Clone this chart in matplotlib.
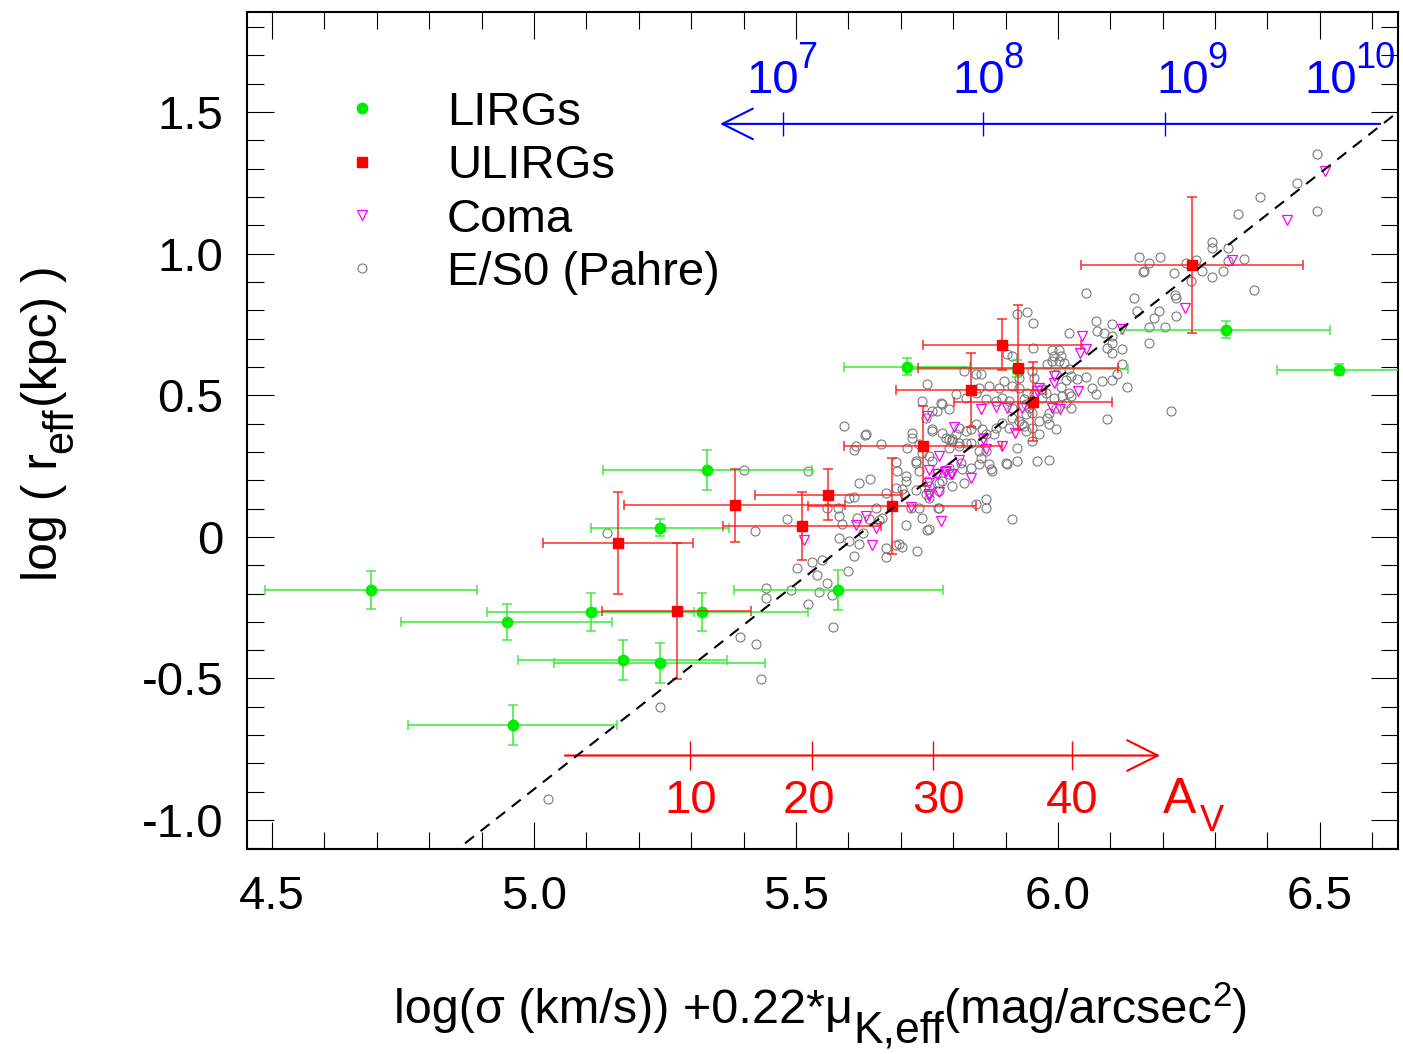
import matplotlib
matplotlib.use("Agg")
import numpy as np
import matplotlib.pyplot as plt
from matplotlib.lines import Line2D
from matplotlib.ticker import MultipleLocator, FuncFormatter

plt.rcParams['font.family'] = ['Liberation Sans', 'DejaVu Sans']

# ---- LIRGs (green), with x / y errors
lirg_x = [4.689, 4.948, 4.959, 5.108, 5.169, 5.240, 5.240, 5.320, 5.331, 5.581, 5.712, 5.922, 6.320, 6.536]
lirg_y = [-0.187, -0.300, -0.664, -0.265, -0.434, -0.445, 0.032, -0.265, 0.237, -0.187, 0.600, 0.593, 0.731, 0.590]
lirg_xerr = [0.203, 0.201, 0.200, 0.198, 0.200, 0.201, 0.132, 0.202, 0.200, 0.200, 0.120, 0.212, 0.200, 0.118]
lirg_yerr = [0.067, 0.064, 0.070, 0.067, 0.070, 0.070, 0.030, 0.067, 0.070, 0.070, 0.030, 0.030, 0.030, 0.020]

# ---- ULIRGs (red)
ulirg_x = [5.161, 5.272, 5.383, 5.512, 5.562, 5.683, 5.743, 5.834, 5.893, 5.924, 5.953, 6.256]
ulirg_y = [-0.021, -0.261, 0.111, 0.039, 0.148, 0.109, 0.321, 0.519, 0.678, 0.597, 0.477, 0.960]
ulirg_xerr = [0.143, 0.143, 0.211, 0.151, 0.141, 0.161, 0.151, 0.143, 0.151, 0.191, 0.151, 0.212]
ulirg_yerr = [0.18, 0.24, 0.13, 0.12, 0.09, 0.17, 0.14, 0.13, 0.09, 0.22, 0.14, 0.24]

# ---- Coma
coma_x = [6.509, 6.437, 6.332, 6.242, 6.122, 6.046, 6.054, 6.042, 6.038, 5.993,
          5.993, 5.964, 5.960, 5.903, 5.989, 6.004, 5.932, 5.882, 5.853, 5.918,
          5.893, 5.857, 5.802, 5.750, 5.773, 5.811, 5.796, 5.785, 5.754, 5.834,
          5.754, 5.754, 5.773, 5.720, 5.777, 5.863, 5.634, 5.615, 5.653, 5.646,
          5.516, 5.770, 5.787, 5.798, 5.754]
coma_y = [1.292, 1.119, 0.978, 0.809, 0.734, 0.710, 0.664, 0.650, 0.516, 0.568,
          0.544, 0.526, 0.516, 0.456, 0.456, 0.452, 0.456, 0.459, 0.452, 0.367,
          0.321, 0.346, 0.388, 0.427, 0.286, 0.272, 0.222, 0.230, 0.237, 0.208,
          0.191, 0.152, 0.159, 0.106, 0.056, 0.311, 0.074, 0.042, 0.032, -0.028,
          -0.011, 0.222, 0.233, 0.222, 0.145]

# ---- E/S0 (Pahre)
es0_x = [5.026, 5.240, 5.139, 5.400, 5.522, 5.394, 5.423, 5.434, 5.442, 5.442,
         5.482, 5.421, 5.491, 5.501, 5.522, 5.531, 5.541, 5.543, 5.550, 5.560,
         5.569, 5.571, 5.600, 5.583, 5.602, 5.611, 5.621, 5.581, 5.560, 5.583,
         5.602, 5.611, 5.592, 5.632, 5.663, 5.611, 5.621, 5.642, 5.672, 5.691,
         5.691, 5.693, 5.710, 5.653, 5.659, 5.617, 5.672, 5.672, 5.691, 5.703,
         5.731, 5.710, 5.741, 5.750, 5.771, 5.735, 5.722, 5.722, 5.760, 5.777,
         5.792, 5.760, 5.798, 5.811, 5.798, 5.729, 5.729, 5.754, 5.773, 5.754,
         5.587, 5.627, 5.640, 5.665, 5.697, 5.615, 5.634,
         5.754, 5.720, 5.773, 5.844, 5.863, 5.863, 5.821, 5.773, 5.749, 5.707,
         5.703, 5.710, 5.750, 5.779, 5.817, 5.874, 5.850, 5.834, 5.815, 5.792,
         5.792, 5.770, 5.760, 5.735, 5.729, 5.754, 5.741, 5.712, 5.735, 5.792,
         5.779, 5.760, 5.749, 5.779, 5.770, 5.741, 5.750, 5.821, 5.844, 5.853,
         5.806, 5.825, 5.844, 5.863, 5.850, 5.869, 5.882, 5.932, 5.922, 5.922,
         5.901, 5.872, 5.869, 5.853, 5.863, 5.850, 5.855, 5.834, 5.825, 5.811,
         5.792, 5.787, 5.798, 5.806, 5.811, 5.825, 5.834, 5.844, 5.855, 5.863,
         5.878, 5.882, 5.893, 5.907, 5.912, 5.926, 5.935, 5.951, 5.983, 5.964,
         5.951, 5.939, 5.939, 5.912, 5.907, 5.893, 5.888, 5.897, 5.926, 5.951,
         5.954, 5.926, 5.912, 5.926, 5.941, 5.954, 5.935, 5.939, 5.951, 5.945,
         5.951, 5.964, 5.979, 5.983, 5.996, 6.015, 6.025, 5.970, 5.968, 5.977,
         5.993, 6.008, 6.025, 6.021, 6.006, 6.015, 5.996, 6.036, 6.025, 6.021,
         6.012, 5.979, 5.989, 6.002, 5.993, 6.006, 5.989, 6.002, 5.912, 5.903,
         5.953, 5.922, 5.941, 5.953, 6.021, 6.073, 6.075, 6.088, 6.103, 6.103,
         6.103, 6.094, 6.122, 6.103, 6.174, 6.122, 6.113, 6.132, 6.103, 6.084,
         6.065, 6.073, 6.054, 6.216, 6.094, 5.912, 5.903, 5.960, 5.983, 5.996,
         6.054, 6.145, 6.151, 6.193, 6.183, 6.174, 6.225, 6.204, 6.164, 6.174,
         6.221,
         6.456, 6.385, 6.343, 6.494, 6.494, 6.374, 6.294, 6.294, 6.324, 6.355,
         6.324, 6.315, 6.294, 6.275, 6.263, 6.244, 6.254, 6.155, 6.195, 6.162,
         6.223, 6.225]
es0_y = [-0.925, -0.600, 0.014, 0.237, 0.233, -0.353, -0.378, -0.501, -0.180, -0.215,
         0.064, 0.021, -0.187, -0.109, -0.237, -0.088, -0.134, -0.194, -0.081, -0.162,
         -0.205, -0.318, -0.120, -0.004, -0.014, -0.067, -0.025, 0.102, 0.102, 0.074,
         0.138, 0.141, 0.392, 0.360, 0.328, 0.307, 0.191, 0.205, 0.155, 0.173,
         0.265, 0.233, 0.215, 0.102, 0.060, 0.067, -0.039, -0.071, -0.028, -0.035,
         -0.049, 0.042, 0.067, 0.025, 0.102, 0.102, 0.367, 0.350, 0.374, 0.473,
         0.452, 0.445, 0.346, 0.321, 0.180, 0.261, 0.166, 0.138, 0.191, 0.180,
         0.046, 0.014, 0.064, 0.067, -0.025, 0.321, 0.364,
         0.028, 0.102, 0.102, 0.117, 0.102, 0.134, 0.191, 0.162, 0.152, 0.152,
         0.169, 0.198, 0.198, 0.198, 0.240, 0.233, 0.258, 0.244, 0.261, 0.244,
         0.222, 0.226, 0.268, 0.233, 0.268, 0.286, 0.297, 0.314, 0.328, 0.346,
         0.367, 0.381, 0.420, 0.470, 0.445, 0.480, 0.540, 0.586, 0.576, 0.576,
         0.505, 0.491, 0.508, 0.487, 0.526, 0.533, 0.480, 0.399, 0.268, 0.314,
         0.261, 0.240, 0.258, 0.279, 0.304, 0.304, 0.339, 0.332, 0.332, 0.332,
         0.314, 0.350, 0.339, 0.364, 0.385, 0.374, 0.381, 0.399, 0.381, 0.364,
         0.364, 0.385, 0.403, 0.385, 0.420, 0.410, 0.392, 0.385, 0.399, 0.364,
         0.339, 0.374, 0.434, 0.456, 0.480, 0.491, 0.526, 0.551, 0.586, 0.586,
         0.561, 0.561, 0.533, 0.526, 0.508, 0.505, 0.487, 0.470, 0.438, 0.456,
         0.470, 0.410, 0.420, 0.438, 0.456, 0.473, 0.456, 0.491, 0.523, 0.508,
         0.491, 0.498, 0.498, 0.508, 0.530, 0.554, 0.576, 0.558, 0.568, 0.593,
         0.614, 0.611, 0.621, 0.621, 0.639, 0.639, 0.660, 0.660, 0.639, 0.646,
         0.667, 0.787, 0.794, 0.756, 0.720, 0.763, 0.727, 0.720, 0.752, 0.710,
         0.685, 0.667, 0.664, 0.650, 0.685, 0.611, 0.576, 0.530, 0.554, 0.551,
         0.526, 0.505, 0.565, 0.445, 0.417, 0.064, 0.258, 0.268, 0.272, 0.381,
         0.862, 0.844, 0.798, 0.798, 0.773, 0.742, 0.780, 0.742, 0.939, 0.968,
         0.932,
         1.250, 1.201, 1.141, 1.151, 1.352, 0.872, 1.042, 1.020, 1.020, 0.982,
         0.975, 0.939, 0.918, 0.939, 0.978, 0.968, 0.904, 0.989, 0.989, 0.936,
         0.855, 0.844]

# ---- dashed relation  y = slope * x + intercept
fit_slope = 1.45
fit_intercept = -8.141

# ---- mass scale (blue, top) and extinction scale (red, bottom)
mass_arrow_x = [6.615, 5.355]
mass_arrow_y = 1.458
mass_tick_x = [5.476, 5.857, 6.204]
mass_label_x = [5.506, 5.899, 6.288, 6.570]   # where "10" ends and the exponent starts
mass_exponents = ['7', '8', '9', '10']

av_arrow_x = [5.059, 6.195]
av_arrow_y = -0.772
av_tick_x = [5.298, 5.531, 5.761, 6.027]
av_label_x = [5.299, 5.524, 5.773, 6.027]
av_labels = ['10', '20', '30', '40']

W, H = 1403, 1054
fig = plt.figure(figsize=(W / 100, H / 100), dpi=100)
ax = fig.add_axes([0.176, 0.1945, 0.8204, 0.7941])
ax.set_xlim(4.452, 6.649)
ax.set_ylim(-1.102, 1.853)

ax.plot(es0_x, es0_y, 'o', ls='none', ms=6.5, mfc='none', mec='#7a7a7a', mew=0.8, zorder=2)
ax.plot(coma_x, coma_y, 'v', ls='none', ms=7, mfc='none', mec='#ff00ff', mew=0.9, zorder=3)

ax.errorbar(lirg_x, lirg_y, xerr=lirg_xerr, yerr=lirg_yerr, fmt='none',
            ecolor='#2ee82e', elinewidth=1.3, capsize=3.6, capthick=1.2, alpha=0.8, zorder=4)
ax.plot(lirg_x, lirg_y, 'o', ls='none', ms=7.5, color='#00ee00', zorder=5)
ax.errorbar(ulirg_x, ulirg_y, xerr=ulirg_xerr, yerr=ulirg_yerr, fmt='none',
            ecolor='#ff1a1a', elinewidth=1.2, capsize=3.6, capthick=1.2, alpha=0.85, zorder=6)
ax.plot(ulirg_x, ulirg_y, 's', ls='none', ms=7.5, color='#ff0000', zorder=7)

xs = np.array(ax.get_xlim())
ax.plot(xs, fit_slope * xs + fit_intercept, color='k', lw=1.5, ls=(0, (5.5, 4)), zorder=8)

# blue mass arrow
ax.annotate('', xy=(mass_arrow_x[1], mass_arrow_y), xytext=(mass_arrow_x[0], mass_arrow_y),
            arrowprops=dict(arrowstyle='->, head_length=1.1, head_width=0.55', color='#0000ff',
                            lw=1.5, shrinkA=0, shrinkB=0, mutation_scale=20))
ax.vlines(mass_tick_x, mass_arrow_y - 0.042, mass_arrow_y + 0.042, color='#0000ff', lw=1)
for xv, ex in zip(mass_label_x, mass_exponents):
    ax.text(xv, 1.567, '10', color='#0000ff', fontsize=34, ha='right', va='baseline')
    ax.text(xv - 0.003, 1.655, ex, color='#0000ff', fontsize=26, ha='left', va='baseline')

# red extinction arrow
ax.annotate('', xy=(av_arrow_x[1], av_arrow_y), xytext=(av_arrow_x[0], av_arrow_y),
            arrowprops=dict(arrowstyle='->, head_length=1.1, head_width=0.55', color='#ff0000',
                            lw=1.5, shrinkA=0, shrinkB=0, mutation_scale=20))
ax.vlines(av_tick_x, av_arrow_y - 0.05, av_arrow_y + 0.05, color='#ff0000', lw=1)
for xv, lab in zip(av_label_x, av_labels):
    ax.text(xv, -0.975, lab, color='#ff0000', fontsize=34, ha='center', va='baseline')
ax.text(6.200, -0.975, 'A', color='#ff0000', fontsize=36, ha='left', va='baseline')
ax.text(6.270, -1.038, 'V', color='#ff0000', fontsize=26, ha='left', va='baseline')

# legend
handles = [
    Line2D([], [], ls='none', marker='o', ms=7.5, color='#00ee00'),
    Line2D([], [], ls='none', marker='s', ms=7, color='#ff0000'),
    Line2D([], [], ls='none', marker='v', ms=7, mfc='none', mec='#ff00ff', mew=0.9),
    Line2D([], [], ls='none', marker='o', ms=6.5, mfc='none', mec='#7a7a7a', mew=0.8),
]
ax.legend(handles, ['LIRGs', 'ULIRGs', 'Coma', 'E/S0 (Pahre)'], loc='upper left',
          bbox_to_anchor=(0.0794, 0.906), frameon=False, fontsize=34,
          handlelength=1.0, handletextpad=1.30, labelspacing=0.2, borderpad=0,
          borderaxespad=0)

# axes styling
ax.xaxis.set_major_locator(MultipleLocator(0.5))
ax.xaxis.set_minor_locator(MultipleLocator(0.1))
ax.yaxis.set_major_locator(MultipleLocator(0.5))
ax.yaxis.set_minor_locator(MultipleLocator(0.1))
ax.xaxis.set_major_formatter(FuncFormatter(lambda v, p: f'{v:.1f}'))
ax.yaxis.set_major_formatter(FuncFormatter(lambda v, p: '0' if abs(v) < 1e-9 else f'{v:.1f}'))
ax.tick_params(which='both', direction='in', top=True, right=True, width=0.8, colors='k')
ax.tick_params(which='major', length=19.5, labelsize=34)
ax.tick_params(axis='y', which='major', pad=17)
ax.tick_params(axis='x', which='major', pad=19)
ax.tick_params(which='minor', length=12)
for s in ax.spines.values():
    s.set_linewidth(1.5)


def rich_label(pieces, x_px, y_px, rotation=0):
    """Axis label built from pieces (text, size, baseline shift in px), centred on (x_px, y_px)."""
    r = fig.canvas.get_renderer()

    def advance(s, fs):
        t = fig.text(0, 0, s + '|', fontsize=fs)
        w1 = t.get_window_extent(r).width
        t.set_text('|')
        w2 = t.get_window_extent(r).width
        t.remove()
        return w1 - w2

    adv = [advance(s, fs) for s, fs, _ in pieces]
    pos = -sum(adv) / 2
    for (s, fs, shift), a in zip(pieces, adv):
        if rotation == 0:
            px, py = x_px + pos, y_px + shift
        else:
            px, py = x_px - shift, y_px + pos
        fig.text(px / W, py / H, s, fontsize=fs, rotation=rotation, rotation_mode='anchor',
                 ha='left', va='baseline')
        pos += a


# x label, baseline ~31 px above the bottom edge
rich_label([('log(σ (km/s)) +0.22*μ', 35, 0), ('K,eff', 32, -20),
            ('(mag/arcsec', 35, 0), ('2', 25, 17), (')', 35, 0)], 821, 31)
# y label, rotated
rich_label([('log ( r', 36, 0), ('eff', 30, -15), ('(kpc) )', 36, 0)], 57, H - 423, rotation=90)

fig.savefig('out.png', dpi=100)
